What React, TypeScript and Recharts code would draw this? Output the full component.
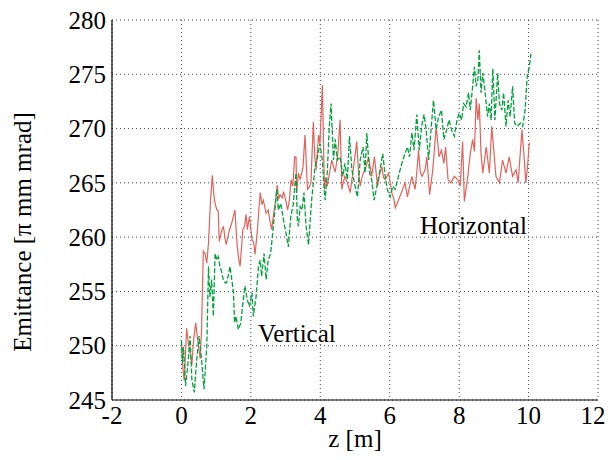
import React from 'react';
import { LineChart, Line, XAxis, YAxis, CartesianGrid } from 'recharts';

// axis ticks
const xTicks = [-2, 0, 2, 4, 6, 8, 10, 12];
const yTicks = [245, 250, 255, 260, 265, 270, 275, 280];

// Horizontal emittance
const hZ = [
  0.0, 0.04, 0.08, 0.12, 0.15, 0.2, 0.25, 0.3, 0.35, 0.41, 0.45, 0.49, 0.54, 0.58, 0.63, 0.68, 0.73, 0.78, 0.84, 0.89,
  0.93, 0.97, 1.02, 1.06, 1.09, 1.15, 1.21, 1.25, 1.29, 1.37, 1.45, 1.54, 1.58, 1.61, 1.65, 1.69, 1.73, 1.77, 1.82, 1.86,
  1.9, 1.96, 2.03, 2.08, 2.12, 2.19, 2.23, 2.27, 2.32, 2.36, 2.44, 2.5, 2.55, 2.6, 2.65, 2.7, 2.76, 2.8, 2.84, 2.9,
  2.94, 3.01, 3.06, 3.11, 3.16, 3.21, 3.26, 3.3, 3.32, 3.37, 3.42, 3.5, 3.56, 3.63, 3.68, 3.73, 3.8, 3.84, 3.88, 3.95,
  3.99, 4.06, 4.12, 4.16, 4.2, 4.27, 4.33, 4.38, 4.43, 4.5, 4.57, 4.62, 4.66, 4.71, 4.78, 4.86, 4.95, 5.05, 5.1, 5.15,
  5.2, 5.24, 5.32, 5.39, 5.48, 5.56, 5.65, 5.71, 5.77, 5.82, 5.87, 5.97, 6.06, 6.12, 6.16, 6.25, 6.35, 6.44, 6.51, 6.58,
  6.64, 6.73, 6.78, 6.83, 6.88, 6.93, 7.02, 7.07, 7.15, 7.24, 7.34, 7.42, 7.49, 7.56, 7.61, 7.68, 7.76, 7.86, 7.96, 8.03,
  8.1, 8.15, 8.25, 8.32, 8.39, 8.44, 8.49, 8.54, 8.58, 8.63, 8.68, 8.78, 8.87, 8.94, 9.06, 9.16, 9.25, 9.35, 9.44, 9.54,
  9.64, 9.7, 9.76, 9.81, 9.88, 9.92, 9.97, 10.02,
];
const hEmit = [
  250.5, 248.0, 246.8, 249.5, 251.6, 250.2, 249.4, 248.2, 250.5, 252.1, 251.0, 250.0, 248.8, 251.5, 258.7, 258.5, 257.6, 259.5, 263.5, 265.7,
  264.0, 263.1, 262.5, 262.4, 259.6, 260.5, 261.0, 260.0, 259.3, 260.5, 261.3, 262.5, 260.5, 259.1, 258.0, 257.3, 259.0, 260.7, 261.0, 262.1,
  260.7, 261.9, 259.8, 259.5, 258.4, 260.7, 262.5, 264.1, 263.0, 263.4, 262.2, 262.5, 261.5, 260.7, 262.0, 263.1, 264.8, 263.5, 263.9, 263.6,
  264.2, 263.3, 262.5, 263.4, 265.3, 264.7, 267.4, 267.4, 264.1, 265.9, 265.3, 266.4, 269.4, 264.4, 264.6, 265.0, 270.6, 267.5, 266.2, 269.4,
  268.6, 274.0, 264.4, 265.5, 264.7, 266.0, 267.1, 266.5, 266.0, 267.5, 270.8, 264.4, 265.0, 265.6, 265.0, 264.1, 266.2, 268.8, 266.0, 264.7,
  265.5, 265.9, 266.5, 267.4, 265.6, 267.4, 264.7, 265.8, 266.5, 265.5, 265.3, 265.9, 264.1, 263.5, 262.7, 263.4, 264.2, 265.0, 263.7, 264.8,
  265.6, 264.4, 266.0, 268.0, 266.0, 265.6, 266.2, 267.4, 263.9, 266.2, 270.2, 267.4, 268.0, 266.8, 268.3, 265.3, 265.0, 265.6, 265.3, 264.7,
  268.8, 263.3, 265.6, 267.7, 269.0, 267.9, 272.8, 270.8, 272.3, 267.7, 265.9, 268.3, 265.9, 270.2, 265.6, 265.0, 267.1, 265.9, 267.4, 265.6,
  266.2, 265.0, 267.7, 269.9, 267.0, 265.0, 266.5, 268.7,
];

// Vertical emittance
const vZ = [
  0.0, 0.03, 0.06, 0.12, 0.18, 0.25, 0.3, 0.37, 0.44, 0.51, 0.58, 0.65, 0.73, 0.78, 0.82, 0.87, 0.92, 0.97, 1.02, 1.06,
  1.11, 1.16, 1.21, 1.26, 1.3, 1.35, 1.4, 1.45, 1.5, 1.53, 1.57, 1.64, 1.71, 1.78, 1.83, 1.9, 1.96, 2.03, 2.07, 2.15,
  2.22, 2.27, 2.31, 2.38, 2.44, 2.5, 2.57, 2.63, 2.7, 2.75, 2.79, 2.86, 2.94, 3.01, 3.08, 3.15, 3.22, 3.3, 3.34, 3.37,
  3.42, 3.47, 3.53, 3.59, 3.66, 3.75, 3.85, 3.92, 3.99, 4.06, 4.1, 4.14, 4.2, 4.26, 4.31, 4.38, 4.43, 4.49, 4.57, 4.65,
  4.71, 4.78, 4.84, 4.91, 5.0, 5.07, 5.15, 5.23, 5.29, 5.34, 5.42, 5.48, 5.55, 5.63, 5.72, 5.8, 5.87, 5.93, 6.01, 6.09,
  6.16, 6.25, 6.35, 6.44, 6.51, 6.57, 6.64, 6.7, 6.78, 6.85, 6.92, 6.99, 7.05, 7.12, 7.19, 7.26, 7.34, 7.41, 7.49, 7.56,
  7.64, 7.71, 7.78, 7.86, 7.94, 8.0, 8.07, 8.13, 8.2, 8.27, 8.32, 8.39, 8.44, 8.49, 8.54, 8.58, 8.63, 8.68, 8.73, 8.78,
  8.82, 8.87, 8.92, 8.97, 9.03, 9.11, 9.16, 9.23, 9.28, 9.35, 9.41, 9.47, 9.54, 9.6, 9.68, 9.76, 9.83, 9.9, 9.96, 10.02,
  10.07,
];
const vEmit = [
  250.5, 248.4, 249.9, 246.3, 248.1, 250.9, 246.9, 245.7, 248.7, 250.9, 248.7, 246.0, 249.9, 257.3, 254.5, 256.1, 252.7, 258.5, 257.9, 258.2,
  257.3, 256.8, 256.0, 255.8, 255.8, 256.5, 257.3, 256.1, 254.9, 252.1, 252.7, 251.5, 252.1, 254.2, 255.5, 254.2, 253.6, 254.9, 252.7, 254.5,
  257.3, 257.9, 256.4, 258.5, 256.1, 257.9, 258.5, 260.4, 262.8, 264.4, 262.5, 263.1, 261.6, 260.4, 259.1, 261.9, 263.0, 265.9, 261.5, 261.0,
  262.8, 262.5, 264.1, 261.0, 259.3, 263.4, 266.5, 267.4, 268.6, 267.1, 265.0, 263.4, 265.9, 270.2, 272.3, 267.1, 269.0, 267.1, 267.4, 265.6,
  266.8, 265.3, 269.3, 266.2, 264.7, 263.7, 267.1, 268.3, 265.9, 269.6, 265.9, 265.3, 263.4, 264.7, 266.2, 267.7, 265.6, 264.4, 263.7, 264.7,
  264.4, 265.6, 266.8, 267.7, 268.3, 267.4, 269.6, 268.0, 271.3, 268.0, 270.2, 271.3, 269.9, 267.1, 269.9, 272.6, 269.9, 271.1, 271.7, 269.0,
  269.9, 270.8, 269.9, 269.3, 270.8, 271.4, 270.8, 272.3, 272.0, 273.3, 271.7, 273.9, 275.7, 273.9, 274.5, 277.2, 273.3, 275.1, 273.9, 272.3,
  271.1, 272.3, 270.8, 275.5, 270.8, 275.1, 272.3, 271.7, 273.3, 270.2, 272.6, 271.1, 273.9, 270.5, 270.2, 270.5, 270.2, 271.7, 274.8, 275.7,
  276.9,
];

const horizontal = hZ.map((z, i) => ({ z, e: hEmit[i] }));
const vertical = vZ.map((z, i) => ({ z, e: vEmit[i] }));

const FONT = '"Liberation Serif", "Times New Roman", serif';
const FS = 25;

// keep the last x label inside the 608px canvas, like the original
const XTick = (props: any) => (
  <text x={Math.min(props.x, 593)} y={props.y} dy="0.71em" textAnchor="middle" fontSize={FS} fontFamily={FONT} fill="#000">
    {props.payload.value}
  </text>
);

const YTick = (props: any) => (
  <text x={props.x} y={props.y} dy="0.35em" textAnchor="end" fontSize={FS} fontFamily={FONT} fill="#000">
    {props.payload.value}
  </text>
);

export default function App() {
  return (
    <div style={{ position: 'absolute', left: 0, top: 0, width: 608, height: 460, background: '#fff' }}>
      <LineChart width={608} height={460} margin={{ top: 20, right: 10, bottom: 0, left: 0 }}>
        <CartesianGrid stroke="#444" strokeDasharray="1 3" />
        <XAxis
          dataKey="z"
          type="number"
          domain={[-2, 12]}
          ticks={xTicks}
          allowDataOverflow
          height={60}
          tickLine={false}
          tickSize={0}
          tickMargin={6}
          axisLine={{ stroke: '#000', strokeWidth: 1.2 }}
          tick={XTick}
        />
        <XAxis xAxisId="top" orientation="top" type="number" domain={[-2, 12]} height={0} tick={false} tickLine={false}
          axisLine={{ stroke: '#000', strokeWidth: 1.2 }} />
        <YAxis
          type="number"
          domain={[245, 280]}
          ticks={yTicks}
          allowDataOverflow
          width={112}
          tickLine={false}
          tickSize={0}
          tickMargin={6}
          axisLine={{ stroke: '#000', strokeWidth: 1.2 }}
          tick={YTick}
        />
        <YAxis yAxisId="right" orientation="right" type="number" domain={[245, 280]} width={0} tick={false} tickLine={false}
          axisLine={{ stroke: '#000', strokeWidth: 1.2 }} />
        <Line data={horizontal} dataKey="e" type="linear" stroke="#e0625a" strokeWidth={1.2} dot={false} isAnimationActive={false} />
        <Line data={vertical} dataKey="e" type="linear" stroke="#00a13c" strokeWidth={1.3} strokeDasharray="5 2" dot={false} isAnimationActive={false} />
        <text x={420} y={234} fontSize={FS} fontFamily={FONT} fill="#000">Horizontal</text>
        <text x={258} y={342} fontSize={FS} fontFamily={FONT} fill="#000">Vertical</text>
        <text x={355} y={447} fontSize={FS} fontFamily={FONT} fill="#000" textAnchor="middle">z [m]</text>
        <text x={31} y={232} fontSize={FS} fontFamily={FONT} fill="#000" textAnchor="middle" transform="rotate(-90 31 232)">Emittance [π mm mrad]</text>
      </LineChart>
    </div>
  );
}
